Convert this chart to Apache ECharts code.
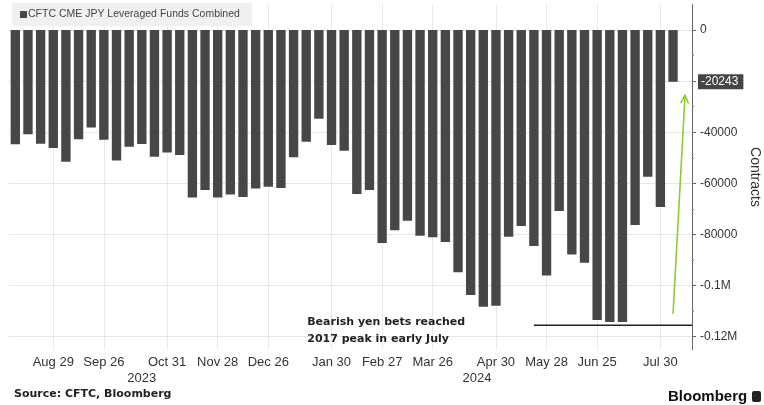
<!DOCTYPE html>
<html>
<head>
<meta charset="utf-8">
<script src="https://cdn.jsdelivr.net/npm/echarts@6/dist/echarts.min.js"></script>
<style>
html,body{margin:0;padding:0;background:#fff;}
#chart{width:764px;height:405px;}
</style>
</head>
<body>
<div id="chart"></div>
<script>
// weekly CFTC report dates (Tuesdays), Aug 2023 - Aug 2024
const weeks = ['Aug 8','Aug 15','Aug 22','Aug 29','Sep 5','Sep 12','Sep 19','Sep 26',
  'Oct 3','Oct 10','Oct 17','Oct 24','Oct 31','Nov 7','Nov 14','Nov 21','Nov 28',
  'Dec 5','Dec 12','Dec 19','Dec 26','Jan 2','Jan 9','Jan 16','Jan 23','Jan 30',
  'Feb 6','Feb 13','Feb 20','Feb 27','Mar 5','Mar 12','Mar 19','Mar 26',
  'Apr 2','Apr 9','Apr 16','Apr 23','Apr 30','May 7','May 14','May 21','May 28',
  'Jun 4','Jun 11','Jun 18','Jun 25','Jul 2','Jul 9','Jul 16','Jul 23','Jul 30','Aug 6'];
const tickWeeks = ['Aug 29','Sep 26','Oct 31','Nov 28','Dec 26','Jan 30','Feb 27','Mar 26','Apr 30','May 28','Jun 25','Jul 30'];
const years = ['2023','2024'];
const yearFirstWeek = ['Aug 8','Jan 2'];
const yearLastWeek = ['Dec 26','Aug 6'];

// net positions, contracts
const positions = [-44700,-40800,-44500,-46200,-51500,-42700,-38100,-42900,-51000,-45700,
  -44600,-49600,-47900,-48900,-65500,-62600,-65500,-64300,-65300,-62000,
  -61300,-61800,-49800,-43700,-34700,-45000,-47200,-64200,-62600,-83300,
  -78300,-74600,-80500,-81100,-82900,-94800,-103700,-108300,-107900,-80900,
  -76700,-84500,-96000,-70800,-87800,-91100,-113500,-114200,-114200,-76300,
  -57400,-69200,-20243];

const yLabels = [0,-40000,-60000,-80000,-100000,-120000];
const yMajor = [0,-20000,-40000,-60000,-80000,-100000,-120000];
const yMinor = [-10000,-30000,-50000,-70000,-90000,-110000];
const peak2017 = -115500;
const peakStartWeek = 'May 21';
const seriesName = 'CFTC CME JPY Leveraged Funds Combined';

let chart = echarts.init(document.getElementById('chart'));

let fmt = function(v){
  if (Math.abs(v) >= 100000) return (v/1000000) + 'M';
  return String(v);
};

let option = {
  animation: false,
  textStyle: {fontFamily: 'Liberation Sans'},
  legend: {
    left: 12, top: 3,
    padding: [6, 12, 6, 8],
    backgroundColor: '#f0f0f0',
    icon: 'rect', itemWidth: 7, itemHeight: 7, itemGap: 0,
    textStyle: {fontSize: 10.5, color: '#444', padding: [0, 0, 0, -4]},
    data: [seriesName]
  },
  grid: {left: 9, right: 72, top: 4.5, bottom: 55.5, outerBoundsMode: 'none'},
  xAxis: [{
    type: 'category',
    data: weeks.concat(['']),
    axisLine: {show: false},
    axisTick: {show: false},
    axisLabel: {
      interval: function(i, v){ return tickWeeks.includes(v); },
      fontSize: 13, color: '#333', margin: 6
    },
    splitLine: {
      show: true, alignWithLabel: true,
      interval: function(i, v){ return tickWeeks.includes(v); },
      lineStyle: {color: '#e8e8e8'}
    }
  }],
  yAxis: [{
    type: 'value', position: 'right',
    min: -125000, max: 10000,
    axisLine: {show: true, lineStyle: {color: '#666'}},
    axisTick: {show: true, length: 4, customValues: yMajor, lineStyle: {color: '#666'}},
    axisLabel: {customValues: yLabels, formatter: fmt, fontSize: 12, color: '#333', margin: 8},
    splitLine: {show: true, lineStyle: {color: '#e6e6e6'}},
    name: 'Contracts', nameLocation: 'middle', nameGap: 45, nameRotate: -90,
    nameTextStyle: {fontSize: 14, color: '#333'}
  }, {
    type: 'value', position: 'right',
    min: -125000, max: 10000,
    axisLine: {show: false},
    axisTick: {show: true, length: 2, customValues: yMinor, lineStyle: {color: '#888'}},
    axisLabel: {
      customValues: [positions[positions.length - 1]],
      formatter: function(v){ return String(v); },
      backgroundColor: '#454545', color: '#fff', fontSize: 12,
      padding: [2, 5, 1, 3], margin: 6
    },
    splitLine: {show: false}
  }],
  series: [{
    name: seriesName,
    type: 'bar',
    data: positions,
    barCategoryGap: '26%',
    itemStyle: {color: '#474747'}
  }]
};

chart.setOption(option);

// annotations placed through the axes
let px = function(i, v){ return chart.convertToPixel({xAxisIndex: 0, yAxisIndex: 0}, [i, v]); };
let band = px(1, 0)[0] - px(0, 0)[0];
let bottomY = px(0, -125000)[1];
let graphics = [];

years.forEach(function(y, k){
  let a = px(weeks.indexOf(yearFirstWeek[k]), 0)[0];
  let b = px(weeks.indexOf(yearLastWeek[k]), 0)[0];
  graphics.push({type: 'text', x: (a + b) / 2, y: bottomY + 29,
    style: {text: y, fontSize: 13, fill: '#333', align: 'center', verticalAlign: 'middle', fontFamily: 'Liberation Sans'}});
});

let p0 = px(weeks.indexOf(peakStartWeek), peak2017);
let pEnd = px(weeks.length - 1, peak2017)[0] + band * 1.5;
graphics.push({type: 'line', shape: {x1: p0[0], y1: p0[1], x2: pEnd, y2: p0[1]},
  style: {stroke: '#222', lineWidth: 1.5}});

let t0 = px(23, -110800);
graphics.push({type: 'text', x: t0[0] + 1, y: t0[1],
  style: {text: 'Bearish yen bets reached\n2017 peak in early July', fontSize: 11, fontWeight: 'bold',
    fill: '#222', lineHeight: 17, fontFamily: 'DejaVu Sans', verticalAlign: 'top'}});

// green arrow
let a0 = px(weeks.length - 1, -111000);
let a1 = px(weeks.length - 1, -25500);
a1[0] += band * 0.95;
let ang = Math.atan2(a1[1] - a0[1], a1[0] - a0[0]);
let hl = 9, hw = 0.45;
graphics.push({type: 'line', shape: {x1: a0[0], y1: a0[1], x2: a1[0], y2: a1[1]},
  style: {stroke: '#8ccc2e', lineWidth: 1.6}});
graphics.push({type: 'polyline', shape: {points: [
  [a1[0] - hl * Math.cos(ang - hw), a1[1] - hl * Math.sin(ang - hw)],
  [a1[0], a1[1]],
  [a1[0] - hl * Math.cos(ang + hw), a1[1] - hl * Math.sin(ang + hw)]]},
  style: {stroke: '#8ccc2e', lineWidth: 1.6, fill: null}});

graphics.push({type: 'text', left: 14, top: 389,
  style: {text: 'Source: CFTC, Bloomberg', fontSize: 11, fontWeight: 'bold', fill: '#222', fontFamily: 'DejaVu Sans'}});
graphics.push({type: 'text', left: 668, top: 389,
  style: {text: 'Bloomberg', fontSize: 15, fontWeight: 'bold', fill: '#111', fontFamily: 'Liberation Sans'}});
graphics.push({type: 'rect', left: 752, top: 391, shape: {width: 9, height: 11, r: 2}, style: {fill: '#222'}});

chart.setOption({graphic: graphics});
</script>
</body>
</html>
